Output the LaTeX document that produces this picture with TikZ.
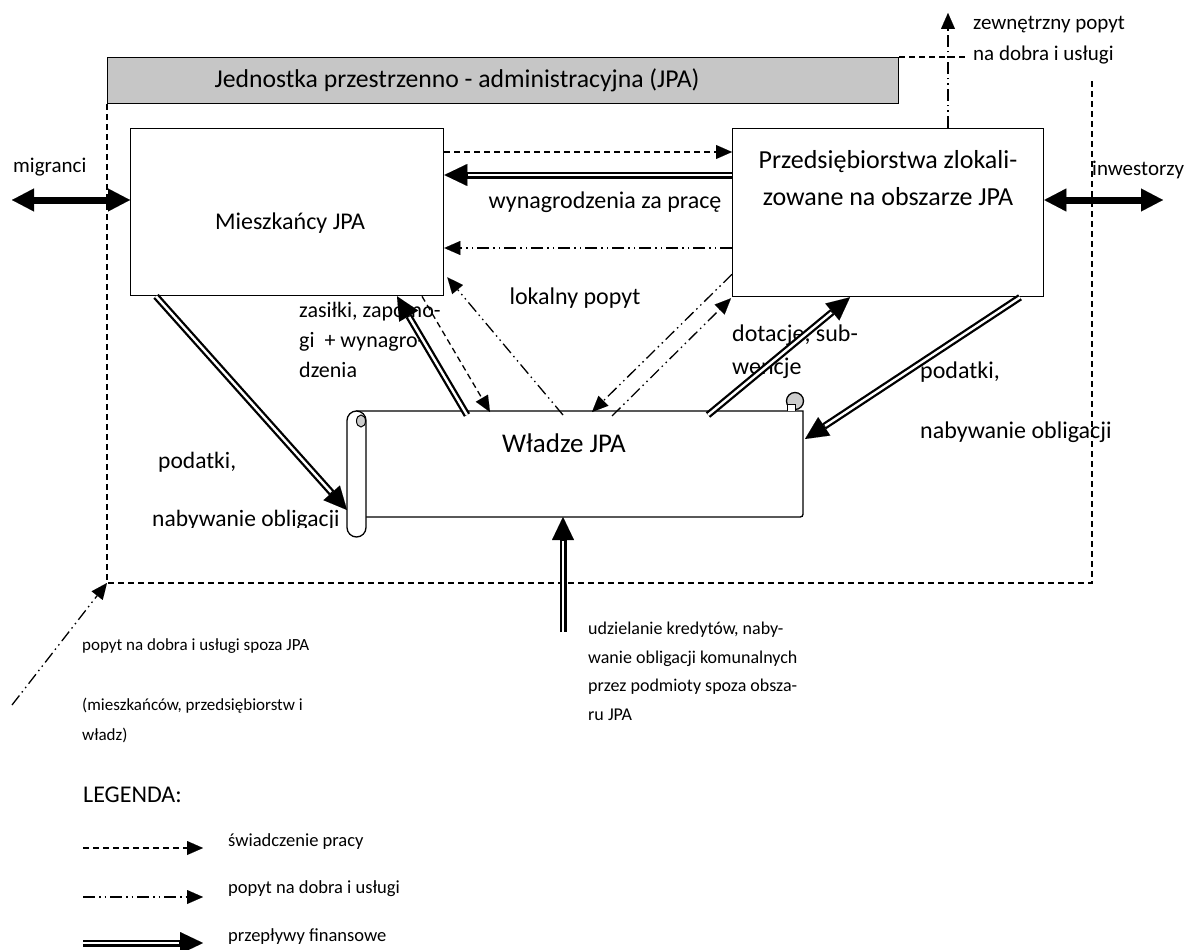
\documentclass[tikz,border=0pt]{standalone}
\usepackage{fontspec}
\setmainfont{Carlito}
\usetikzlibrary{arrows.meta,calc}
\begin{document}
\begin{tikzpicture}[x=1pt,y=-1pt,
  boxst/.style={draw, line width=1.3pt, fill=white, inner sep=0pt},
  big/.style={font=\fontsize{24}{30}\selectfont, inner sep=0pt},
  bigger/.style={font=\fontsize{26}{30}\selectfont, inner sep=0pt},
  mid/.style={font=\fontsize{23.5}{30}\selectfont, inner sep=0pt},
  small/.style={font=\fontsize{21}{30}\selectfont, inner sep=0pt},
  zas/.style={font=\fontsize{22}{30}\selectfont, inner sep=0pt},
  tiny/.style={font=\fontsize{18}{30}\selectfont, inner sep=0pt},
  legt/.style={font=\fontsize{18.5}{30}\selectfont, inner sep=0pt},
  tip/.style={-{Triangle[length=16pt,width=14pt,line width=0.01pt]}},
  work/.style={line width=1.3pt, dash pattern=on 6pt off 4pt, tip},
  demand/.style={line width=1.3pt, dash pattern=on 12pt off 4pt on 1.5pt off 4pt on 1.5pt off 4pt, tip},
  fin/.style={line width=7pt, -{Triangle[length=23pt,width=22pt,line width=0.01pt]},
    postaction={draw=white, line width=2.4pt, -, shorten >=24pt}},
  flow/.style={line width=7pt, {Triangle[length=22pt,width=23pt,line width=0.01pt]}-{Triangle[length=22pt,width=23pt,line width=0.01pt]}},
  border/.style={line width=1.3pt, dash pattern=on 6pt off 4pt},
]
\useasboundingbox (0,0) rectangle (1187,950);

% JPA title box and boundary
\node[boxst, fill=gray!45, minimum width=791pt, minimum height=46pt, anchor=north west] (jpa) at (107,57) {};
\node[font=\fontsize{25.7}{30}\selectfont, inner sep=0pt, anchor=base] (jpatxt) at (457,88) {Jednostka przestrzenno - administracyjna (JPA)};
\coordinate (cBL) at (107,583);
\coordinate (cBR) at (1092,583);
\coordinate (cTR) at (1092,77);
\coordinate (cTop) at (968,57);
\draw[border] (jpa.south west) -- (cBL) -- (cBR) -- (cTR);
\draw[border] (jpa.north east) -- (cTop);

% main boxes
\node[boxst, minimum width=313pt, minimum height=167pt, anchor=north west] (mie) at (130,128) {};
\node[big, anchor=base] (mietxt) at (290,229) {Mieszkańcy JPA};
\node[boxst, minimum width=311pt, minimum height=168pt, anchor=north west] (prz) at (732,128) {};
\node[bigger, anchor=base] (prz1) at (888,168) {Przedsiębiorstwa zlokali-};
\node[bigger, anchor=base] (prz2) at (888,205) {zowane na obszarze JPA};

% scroll (Władze JPA)
\node[minimum width=456pt, minimum height=126pt, inner sep=0pt, anchor=north west] (wl) at (347,411) {};
\draw[line width=1.3pt, fill=white] (356,411) -- (803,411) -- (803,511) .. controls (803,517) .. (797,517) -- (366,517);
\draw[line width=1.3pt, fill=white, rounded corners=9.5pt] (347,411) rectangle (366,537);
\draw[line width=1pt, fill=gray!40] (361,421) ellipse (4.5pt and 6pt);
\draw[line width=1.3pt, fill=gray!40] (795,401) circle (8.5pt);
\draw[line width=1pt, fill=white] (787,411) -- (787,404) -- (795,404) -- (795,411);
\node[font=\fontsize{27}{30}\selectfont, inner sep=0pt, anchor=base] (wltxt) at (564,452) {Władze JPA};

% labels
\node[big, anchor=base] (l_wyn) at (605,208) {wynagrodzenia za pracę};
\node[big, anchor=base] (l_lok) at (575,304) {lokalny popyt};
\node[zas, anchor=base west] (l_z1) at (299,317) {zasiłki, zapomo-};
\node[zas, anchor=base west] (l_z2) at (299,347) {gi\ \ + wynagro-};
\node[zas, anchor=base west] (l_z3) at (299,377) {dzenia};
\node[big, anchor=base west] (l_d1) at (732,341) {dotacje, sub-};
\node[big, anchor=base west] (l_d2) at (732,374) {wencje};
\node[big, anchor=base west] (l_p1) at (920,378) {podatki,};
\node[big, anchor=base west] (l_p2) at (920,438) {nabywanie obligacji};
\node[mid, anchor=base west] (l_q1) at (158,468) {podatki,};
\begin{scope}
\clip (0,0) rectangle (1187,527);
\node[mid, anchor=base west] (l_q2) at (152,526) {nabywanie obligacji};
\end{scope}
\node[small, anchor=base west] (l_e1) at (973,30) {zewnętrzny popyt};
\node[small, anchor=base west] (l_e2) at (973,61) {na dobra i usługi};
\node[small, anchor=base west] (l_mig) at (13,172) {migranci};
\node[small, anchor=base west] (l_inw) at (1092,175) {inwestorzy};
\node[font=\fontsize{17}{30}\selectfont, inner sep=0pt, anchor=base west] (l_s1) at (82,650) {popyt na dobra i usługi spoza JPA};
\node[font=\fontsize{17}{30}\selectfont, inner sep=0pt, anchor=base west] (l_s2) at (82,710) {(mieszkańców, przedsiębiorstw i};
\node[font=\fontsize{17}{30}\selectfont, inner sep=0pt, anchor=base west] (l_s3) at (82,740) {władz)};
\node[tiny, anchor=base west] (l_c1) at (588,634) {udzielanie kredytów, naby-};
\node[tiny, anchor=base west] (l_c2) at (588,663) {wanie obligacji komunalnych};
\node[tiny, anchor=base west] (l_c3) at (588,691) {przez podmioty spoza obsza-};
\node[tiny, anchor=base west] (l_c4) at (588,720) {ru JPA};

% connectors between boxes
\draw[work] ($(mie.north east)+(0,24)$) -- ($(prz.north west)+(0,24)$);
\draw[fin] ($(prz.north west)+(0,47)$) -- ($(mie.north east)+(0,47)$);
\draw[demand] ($(prz.north west)+(0,120)$) -- ($(mie.north east)+(0,120)$);

% residents <-> authorities
\draw[fin] ($(mie.south west)+(26,0)$) -- ($(wl.north west)+(0,99)$);
\draw[fin] ($(wl.north west)+(120,4)$) -- ($(mie.south west)+(267,0)$);
\draw[work] ($(mie.south west)+(292,0)$) -- ($(wl.north west)+(143,1)$);
\draw[demand] ($(wl.north west)+(216,4)$) -- ($(mie.south east)+(3,-19)$);

% firms <-> authorities
\draw[demand] ($(prz.south west)+(0,-23)$) -- ($(wl.north west)+(245,1)$);
\draw[demand] ($(wl.north west)+(265,5)$) -- ($(prz.south west)+(-1,1)$);
\draw[fin] ($(wl.north west)+(361,4)$) -- ($(prz.south west)+(118,0)$);
\draw[fin] ($(prz.south west)+(288,0)$) -- ($(wl.north west)+(458,28)$);

% external flows
\coordinate (cCred) at (563,632);
\draw[fin] (cCred) -- ($(wl.north west)+(216,106)$);
\coordinate (cMig) at (12,200);
\draw[flow] (cMig) -- ($(mie.north west)+(0,72)$);
\coordinate (cInw) at (1163,200);
\draw[flow] ($(prz.north east)+(0,72)$) -- (cInw);
\coordinate (cExt) at (948,13);
\draw[demand] ($(prz.north west)+(216,0)$) -- (cExt);
\coordinate (cOut) at (12,705);
\draw[demand] (cOut) -- (cBL);

% legend
\node[font=\fontsize{24}{30}\selectfont, inner sep=0pt, anchor=base west] (leg) at (83,802) {LEGENDA:};
\coordinate (g1a) at (83,848); \coordinate (g1b) at (203,848);
\coordinate (g2a) at (83,897); \coordinate (g2b) at (203,897);
\coordinate (g3a) at (83,943); \coordinate (g3b) at (203,943);
\draw[work] (g1a) -- (g1b);
\draw[demand] (g2a) -- (g2b);
\draw[fin] (g3a) -- (g3b);
\node[legt, anchor=base west] (lg1) at (228,846) {świadczenie pracy};
\node[legt, anchor=base west] (lg2) at (228,893) {popyt na dobra i usługi};
\node[legt, anchor=base west] (lg3) at (228,941) {przepływy finansowe};
\end{tikzpicture}
\end{document}
